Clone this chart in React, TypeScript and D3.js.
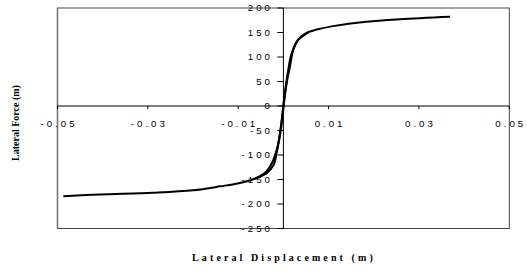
import React from "react";
import * as d3 from "d3";

const disp = [-0.0487, -0.0406, -0.0289, -0.02, -0.014, -0.0096, -0.0059, -0.0037, -0.0022, -0.0015, -0.00075, 0, 0.00086, 0.00146, 0.0022, 0.0033, 0.0052, 0.0074, 0.011, 0.0184, 0.0258, 0.0369];
const force = [-184, -180.5, -177, -172, -164, -157, -147, -137, -121, -96, -55, 0, 54, 81, 115.5, 136, 149.7, 156, 163, 172, 177, 182];
// return branch of the loops near the origin
const disp2 = [-0.0062, -0.0038, -0.0024, -0.0012, -0.0004, 0.0003, 0.001, 0.0018, 0.0032, 0.0055];
const force2 = [-148, -134, -114, -80, -36, 24, 68, 106, 134, 150];

const xTicks = [-0.05, -0.03, -0.01, 0.01, 0.03, 0.05];
const xTickLabels = ["-0.05", "-0.03", "-0.01", "0.01", "0.03", "0.05"];
const yTicks = [200, 150, 100, 50, 0, -50, -100, -150, -200, -250];
const yTickLabels = ["200", "150", "100", "50", "0", "-50", "-100", "-150", "-200", "-250"];

export default function App() {
  const x = d3.scaleLinear().domain([-0.05, 0.05]).range([57.5, 509.3]);
  const y = d3.scaleLinear().domain([-250, 200]).range([228.5, 8]);
  const line = d3
    .line<[number, number]>()
    .x((d) => x(d[0]))
    .y((d) => y(d[1]))
    .curve(d3.curveCatmullRom.alpha(0.5));
  const pts = disp.map((d, i) => [d, force[i]] as [number, number]);
  const pts2 = disp2.map((d, i) => [d, force2[i]] as [number, number]);
  const x0 = x(0);
  const y0 = y(0);
  const tickFont = { fontFamily: "'Liberation Sans', Arial, sans-serif", fontSize: 9.7, letterSpacing: 3, fill: "#000" };
  return (
    <svg width={527} height={271} style={{ position: "absolute", left: 0, top: 0, background: "#fff" }}>
      <rect x={57.5} y={8} width={509.3 - 57.5} height={228.5 - 8} fill="none" stroke="#444" strokeWidth={1} />
      <line x1={57.5} x2={57.5} y1={8} y2={228.5} stroke="#777" strokeWidth={1.6} />
      {/* axes */}
      <line x1={57.5} x2={509.3} y1={y0} y2={y0} stroke="#000" strokeWidth={1} />
      <line x1={x0} x2={x0} y1={8} y2={228.5} stroke="#000" strokeWidth={1} />
      {xTicks.map((t, i) => (
        <g key={"x" + i}>
          <line x1={x(t)} x2={x(t)} y1={y0} y2={y0 + 3} stroke="#000" strokeWidth={1} />
          <text x={x(t) + 1.5} y={126.5} textAnchor="middle" {...tickFont}>
            {xTickLabels[i]}
          </text>
        </g>
      ))}
      {yTicks.map((t, i) => (
        <g key={"y" + i}>
          <line x1={x0 - 6} x2={x0} y1={y(t)} y2={y(t)} stroke="#000" strokeWidth={1} />
          <text x={273} y={y(t) + 3.4} textAnchor="end" {...tickFont}>
            {yTickLabels[i]}
          </text>
        </g>
      ))}
      <path d={line(pts2) || ""} fill="none" stroke="#000" strokeWidth={2.2} />
      <path d={line(pts) || ""} fill="none" stroke="#000" strokeWidth={2} />
      <text
        x={284}
        y={261}
        textAnchor="middle"
        style={{ fontFamily: "'Liberation Serif', 'Times New Roman', serif", fontWeight: "bold", fontSize: 10, letterSpacing: 3.1 }}
      >
        Lateral Displacement (m)
      </text>
      <text
        transform="translate(18.5,123) rotate(-90)"
        textAnchor="middle"
        style={{ fontFamily: "'Liberation Serif', 'Times New Roman', serif", fontWeight: "bold", fontSize: 10 }}
      >
        Lateral Force (m)
      </text>
    </svg>
  );
}
